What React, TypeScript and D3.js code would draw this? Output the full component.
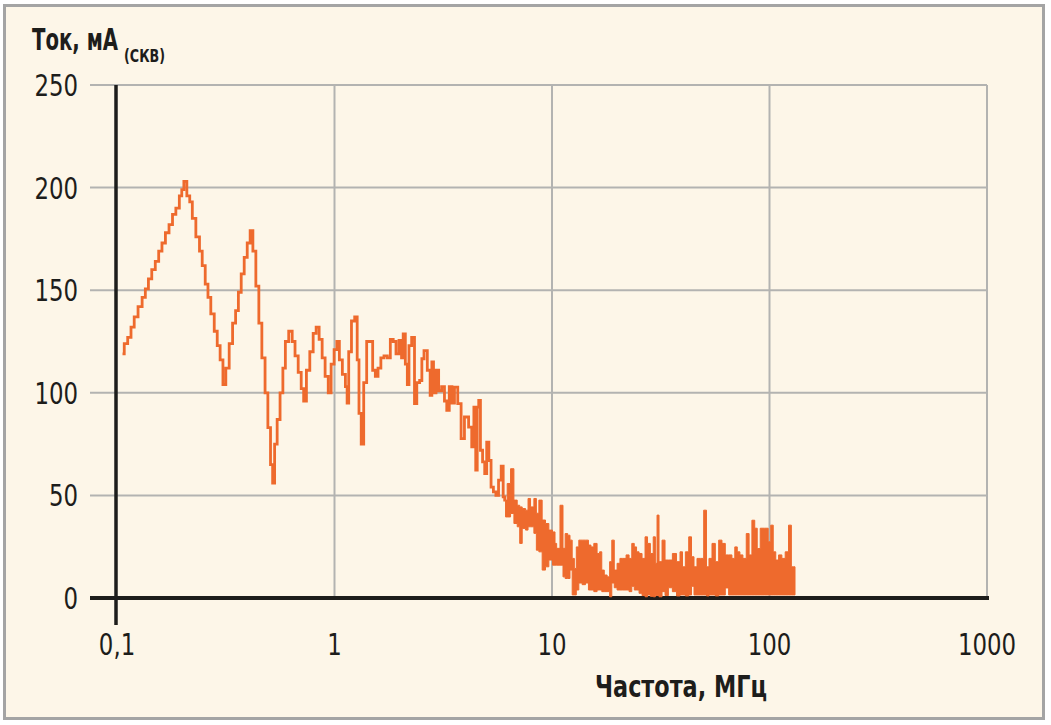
import React from 'react';
import * as d3 from 'd3';

// step line, 0.1 .. 6 MHz (MHz, mA rms)
const lineFreq = [
  0.106, 0.110, 0.114, 0.118, 0.122, 0.128, 0.133, 0.137, 0.142, 0.147,
  0.153, 0.158, 0.164, 0.170, 0.177, 0.183, 0.190, 0.197, 0.200, 0.206,
  0.213, 0.219, 0.225, 0.236, 0.243, 0.250, 0.259, 0.265, 0.275, 0.285,
  0.293, 0.303, 0.311, 0.322, 0.334, 0.346, 0.356, 0.367, 0.378, 0.391,
  0.403, 0.416, 0.427, 0.443, 0.455, 0.472, 0.487, 0.501, 0.515, 0.524,
  0.537, 0.553, 0.571, 0.587, 0.602, 0.630, 0.648, 0.669, 0.693, 0.713,
  0.730, 0.756, 0.784, 0.812, 0.835, 0.865, 0.890, 0.921, 0.951, 0.979,
  1.013, 1.038, 1.068, 1.106, 1.139, 1.147, 1.178, 1.216, 1.261, 1.282,
  1.310, 1.344, 1.381, 1.431, 1.477, 1.519, 1.563, 1.608, 1.660, 1.718,
  1.780, 1.832, 1.891, 1.945, 2.015, 2.052, 2.087, 2.147, 2.177, 2.223,
  2.304, 2.361, 2.419, 2.508, 2.535, 2.625, 2.718, 2.788, 2.818, 2.887,
  2.971, 3.053, 3.164, 3.243, 3.322, 3.419, 3.518, 3.604, 3.772, 3.869,
  4.049, 4.224, 4.328, 4.420, 4.500, 4.562, 4.646, 4.730, 4.861, 4.949,
  5.071, 5.179, 5.313, 5.443, 5.601, 5.757, 5.924, 6.005,
];
const lineCurrent = [
  119, 124, 127, 132, 137, 142, 146.5, 150.6, 155.5, 160,
  164, 169, 173, 178, 182, 187, 190, 196, 199, 203,
  196, 193, 185, 176, 169, 162, 153, 146.5, 138.5, 130,
  123, 116, 104, 112, 124, 134, 140, 149, 158, 166,
  173, 179, 169, 152, 134, 117, 100, 83, 65, 56,
  75, 87, 100, 112, 125, 130, 125, 118, 110, 102,
  96, 111, 120, 129, 132, 126, 117, 108, 100, 114,
  121, 125, 116, 109, 103, 95, 120, 135, 137, 116,
  90, 75, 105, 125, 125, 111, 108, 112, 117, 118,
  117, 126, 125, 119, 125.5, 117, 128.7, 114, 104, 123,
  127, 94.7, 105, 106, 116.6, 120.6, 111, 98.7, 115, 100,
  111, 101, 103, 96, 91.4, 103, 95, 102.8, 94.7, 77.7,
  88.2, 83.3, 73.6, 93, 62.3, 93, 96.3, 72, 66.3, 60.6,
  76, 67, 54, 51.7, 50, 57.4, 64.2, 49.3,
];

// dense part 6 .. 131 MHz: upper and lower envelope
const bandFreq = [
  6.116, 6.333, 6.566, 6.799, 7.041, 7.169, 7.423, 7.694, 7.826, 8.112,
  8.400, 8.551, 8.855, 9.170, 9.504, 9.842, 10.27, 10.38, 10.63, 11.14,
  11.33, 11.66, 11.95, 12.25, 12.52, 12.82, 13.05, 13.52, 14.00, 14.51,
  14.91, 15.30, 15.84, 16.40, 16.70, 17.18, 17.61, 18.24, 18.57, 19.10,
  19.57, 20.27, 20.79, 21.53, 22.29, 22.94, 23.60, 24.18, 24.78, 25.49,
  26.40, 27.16, 27.83, 28.85, 29.56, 30.20, 30.61, 31.50, 32.62, 33.57,
  35.02, 36.53, 38.23, 39.33, 40.31, 41.78, 43.27, 44.33, 45.61, 47.23,
  48.96, 50.70, 51.94, 53.45, 55.36, 57.38, 59.41, 61.52, 63.76, 66.02,
  68.37, 70.13, 72.08, 74.16, 76.79, 79.62, 81.56, 84.46, 86.63, 89.03,
  92.31, 97.32, 100.0, 102.6, 105.5, 108.2, 112.0, 116.0, 120.2, 124.5,
  127.6, 131.0,
];
const bandHigh = [
  47.7, 55.8, 63, 47.7, 45.2, 44.4, 43.6, 42.8, 48.5, 44.4,
  48.5, 41.3, 47.7, 38, 36.3, 33.1, 32.2, 26.6, 24.2, 45.2,
  24.2, 31.4, 30.6, 28.2, 19.3, 14.4, 24.9, 28.2, 28.2, 28.2,
  25.8, 24.9, 26.6, 21.7, 22.5, 13.6, 11.2, 10.3, 17.7, 28.2,
  13.6, 16.9, 19.3, 19.3, 21, 19.3, 26.6, 24.9, 22.5, 21.7,
  19.3, 29.8, 26.6, 21.7, 29.8, 16.9, 40.4, 17.7, 28.2, 18.5,
  18.5, 21.7, 17.7, 22.5, 15.2, 22.5, 29.8, 20.1, 15.2, 19.3,
  19.3, 42.8, 15.2, 19.3, 26.6, 17.7, 28.2, 26.6, 21, 21,
  19.3, 24.9, 22.5, 21, 19.3, 31.4, 21, 37.9, 34, 24.1,
  34, 34, 27.4, 35.5, 22.5, 18.5, 21, 19.3, 22.5, 35.5,
  15.2, 15.2,
];
const bandLow = [
  39.5, 39.5, 41.2, 36.3, 34.7, 26.6, 33.9, 33.1, 34.7, 34.7,
  31.5, 23.3, 22.5, 13.6, 15.2, 18.5, 16, 16, 16, 16,
  10.3, 9.5, 9.5, 13.6, 1.5, 1.5, 3.9, 7.3, 6.5, 7.3,
  3.9, 3.9, 3.1, 3.9, 3.9, 3.1, 3.1, 3.1, 0.6, 7.3,
  5, 3.9, 3.9, 3.9, 3.9, 3.1, 5.7, 3.9, 3.9, 2.3,
  1.2, 0.6, 1.5, 0.8, 0.6, 1.2, 1.2, 0.6, 3.1, 1.2,
  5, 3.1, 1, 1.5, 1.5, 1, 1.5, 5.7, 1.5, 1.5,
  1.5, 1.5, 1, 1.5, 1.5, 1, 1.5, 1.5, 4.9, 1.5,
  1.5, 1.5, 1.5, 1.5, 1.5, 1.5, 1.5, 1.5, 1.5, 1.5,
  1.5, 1.5, 1.5, 1.5, 1.5, 1.5, 1.5, 1.5, 1.5, 1.5,
  1.5, 1.5,
];

const yTicks = [0, 50, 100, 150, 200, 250];
const xTicks = [0.1, 1, 10, 100, 1000];
const xTickLabels = ['0,1', '1', '10', '100', '1000'];

const W = 1051;
const H = 725;
const ORANGE = '#ee6a2d';
const GRID = '#b3b3b1';
const INK = '#1d1d1b';
const FONT = "'Liberation Sans Narrow', 'DejaVu Sans Condensed', 'Arial Narrow', sans-serif";
const NARROW = 0.82;

const x = d3.scaleLog().domain([0.1, 1000]).range([117, 987]);
const y = d3.scaleLinear().domain([0, 250]).range([598, 85]);

const App = () => {
  const linePts: [number, number][] = lineFreq.map((f, i) => [f, lineCurrent[i]]);
  linePts.push([bandFreq[0], bandHigh[0]]);

  const lineGen = d3
    .line<[number, number]>()
    .x((d) => x(d[0]))
    .y((d) => y(d[1]))
    .curve(d3.curveStep);

  const bandGen = d3
    .area<number>()
    .x((f) => x(f))
    .y0((_, i) => y(bandLow[i]))
    .y1((_, i) => y(bandHigh[i]))
    .curve(d3.curveStep);

  const left = 90;
  const right = x(1000);

  return (
    <svg
      width={W}
      height={H}
      style={{ position: 'absolute', left: 0, top: 0 }}
      fontFamily={FONT}
    >
      <rect x={0} y={0} width={W} height={H} fill="#ffffff" />
      <rect x={4.5} y={5.5} width={1039} height={713} fill="#fdf6e8" stroke="#a4a4a4" strokeWidth={3} />

      {/* grid */}
      {yTicks.map((t) => (
        <line key={'gy' + t} x1={left} x2={right} y1={y(t)} y2={y(t)} stroke={GRID} strokeWidth={2} />
      ))}
      {xTicks.slice(1).map((t) => (
        <line key={'gx' + t} x1={x(t)} x2={x(t)} y1={y(250)} y2={y(0)} stroke={GRID} strokeWidth={2} />
      ))}

      {/* axes */}
      <line x1={x(0.1) - 1} x2={x(0.1) - 1} y1={y(250)} y2={625} stroke={INK} strokeWidth={3.5} />
      <line x1={left} x2={right + 2} y1={y(0)} y2={y(0)} stroke={INK} strokeWidth={4} />

      {/* data */}
      <path d={lineGen(linePts) || ''} fill="none" stroke={ORANGE} strokeWidth={2.8} strokeLinejoin="miter" />
      <path d={bandGen(bandFreq) || ''} fill={ORANGE} stroke={ORANGE} strokeWidth={1} />

      {/* tick labels */}
      {yTicks.map((t) => (
        <text
          key={'ly' + t}
          transform={`translate(78,${y(t) + 11}) scale(${NARROW},1)`}
          textAnchor="end"
          fontSize={31}
          fill={INK}
        >
          {t}
        </text>
      ))}
      {xTicks.map((t, i) => (
        <text
          key={'lx' + t}
          transform={`translate(${x(t)},655) scale(${NARROW},1)`}
          textAnchor="middle"
          fontSize={31}
          fill={INK}
        >
          {xTickLabels[i]}
        </text>
      ))}

      {/* titles */}
      <text x={32} y={50} fontWeight="bold" fill={INK}>
        <tspan fontSize={31} textLength={86} lengthAdjust="spacingAndGlyphs">Ток, мА</tspan>
        <tspan x={124} y={62} fontSize={17} textLength={41} lengthAdjust="spacingAndGlyphs">(СКВ)</tspan>
      </text>
      <text x={595} y={697} fontSize={31} fontWeight="bold" fill={INK} textLength={172} lengthAdjust="spacingAndGlyphs">
        Частота, МГц
      </text>
    </svg>
  );
};

export default App;
